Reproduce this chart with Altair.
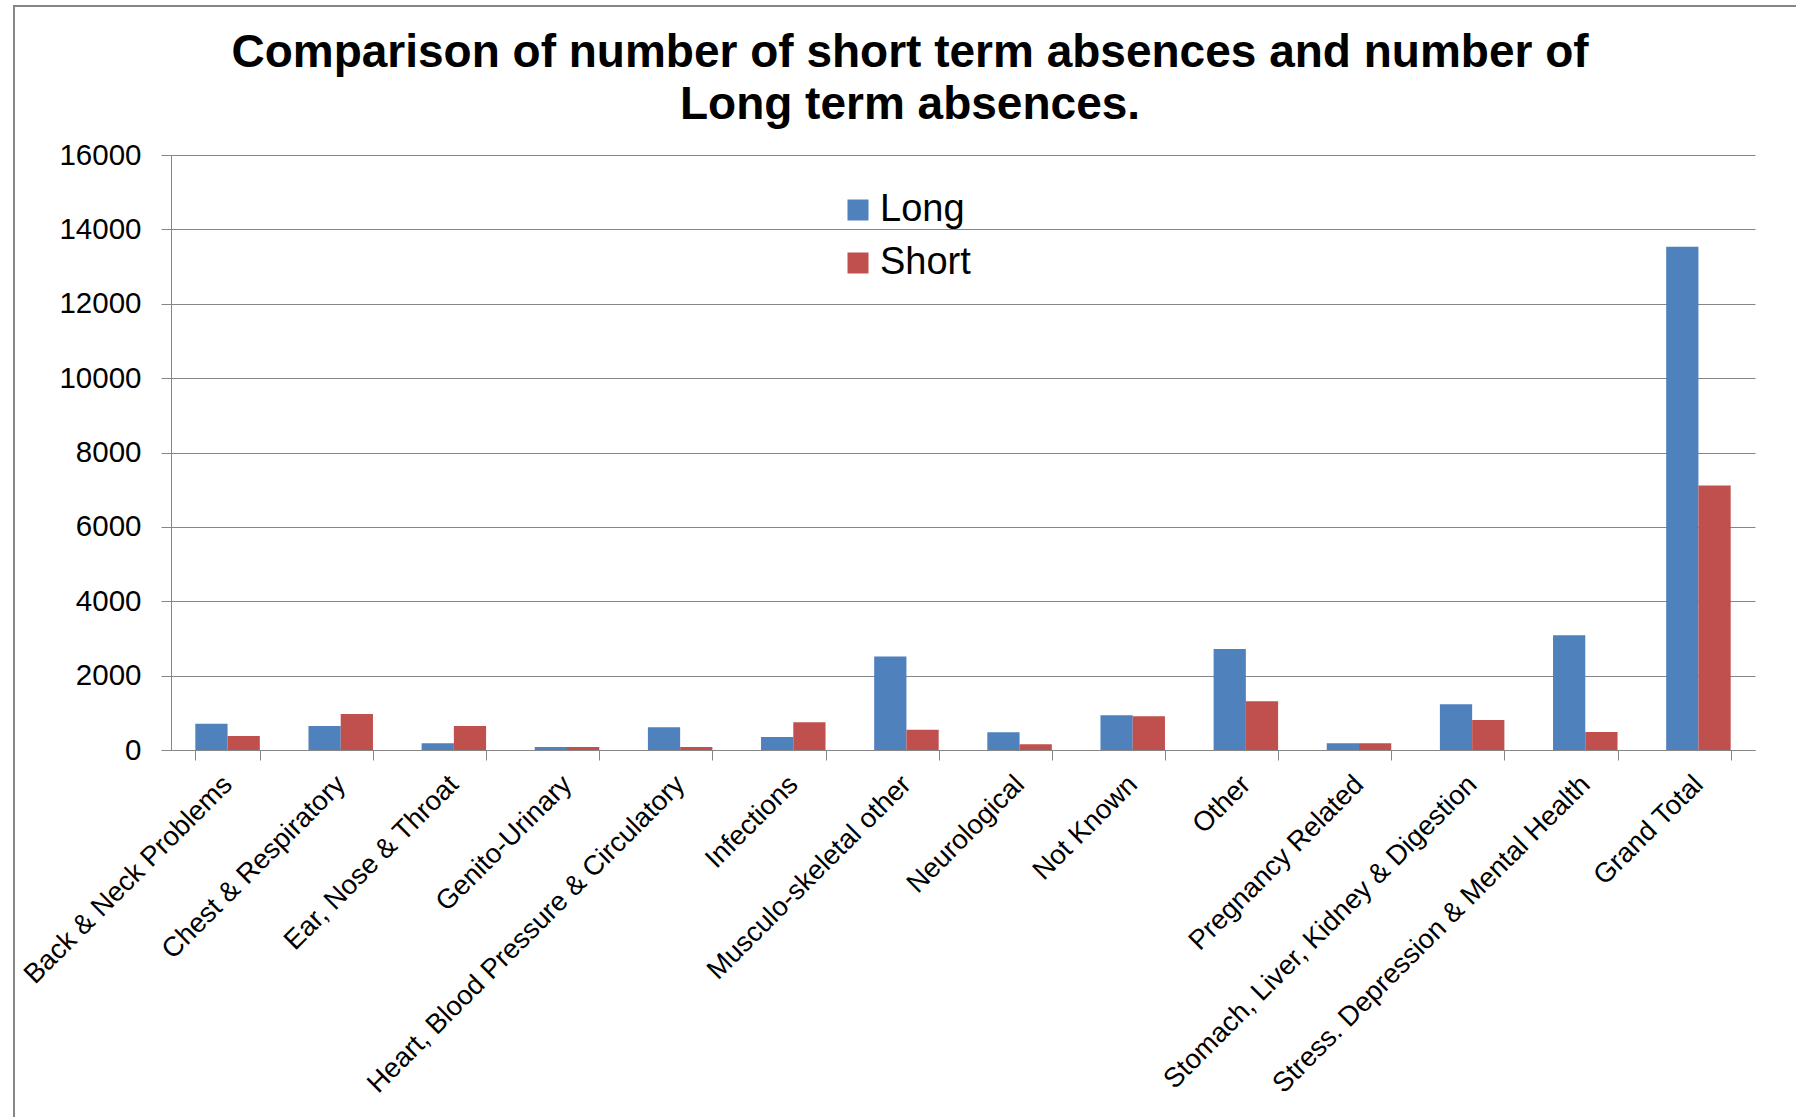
import altair as alt
import pandas as pd

title_lines = [
    "Comparison of number of short term absences and number of",
    "Long term absences.",
]
categories = [
    "Back & Neck Problems",
    "Chest & Respiratory",
    "Ear, Nose & Throat",
    "Genito-Urinary",
    "Heart, Blood Pressure & Circulatory",
    "Infections",
    "Musculo-skeletal other",
    "Neurological",
    "Not Known",
    "Other",
    "Pregnancy Related",
    "Stomach, Liver, Kidney & Digestion",
    "Stress. Depression & Mental Health",
    "Grand Total",
]
long_values = [708, 646, 180, 81, 611, 350, 2512, 476, 934, 2719, 180, 1230, 3087, 13532]
short_values = [377, 969, 646, 81, 81, 745, 547, 153, 906, 1310, 180, 808, 485, 7115]
series = ["Long", "Short"]
colors = ["#4F81BD", "#C0504D"]
y_ticks = [0, 2000, 4000, 6000, 8000, 10000, 12000, 14000, 16000]

rows = []
for c, lv, sv in zip(categories, long_values, short_values):
    rows.append({"Category": c, "Series": "Long", "Value": lv})
    rows.append({"Category": c, "Series": "Short", "Value": sv})
df = pd.DataFrame(rows)
one = pd.DataFrame({"k": [0]})

FONT = "Liberation Sans"
GRAY = "#868686"

bars = alt.Chart(df).mark_bar().encode(
    x=alt.X(
        "Category:N",
        sort=categories,
        title=None,
        scale=alt.Scale(paddingInner=0.43, paddingOuter=0.215),
        axis=alt.Axis(
            labelAngle=-45,
            labelFontSize=27.5,
            labelFont=FONT,
            labelColor="#000000",
            labelAlign="right",
            labelBaseline="middle",
            labelPadding=20,
            labelLimit=1000,
            tickBand="extent",
            tickSize=10,
            tickColor=GRAY,
            domainColor=GRAY,
            grid=False,
        ),
    ),
    xOffset=alt.XOffset("Series:N", sort=series, scale=alt.Scale(paddingInner=0, paddingOuter=0)),
    y=alt.Y(
        "Value:Q",
        title=None,
        scale=alt.Scale(domain=[0, 16000], nice=False),
        axis=alt.Axis(
            values=y_ticks,
            labelFontSize=29.5,
            labelFont=FONT,
            labelColor="#000000",
            labelPadding=20,
            tickSize=10,
            tickColor=GRAY,
            domainColor=GRAY,
            gridColor=GRAY,
            gridWidth=1,
            format="d",
        ),
    ),
    color=alt.Color(
        "Series:N",
        sort=series,
        scale=alt.Scale(domain=series, range=colors),
        legend=alt.Legend(
            title=None,
            orient="none",
            legendX=668,
            legendY=36,
            symbolType="square",
            symbolSize=441,
            symbolStrokeWidth=0,
            labelFontSize=38,
            labelFont=FONT,
            labelColor="#000000",
            labelOffset=3,
            rowPadding=15,
            padding=0,
        ),
    ),
)

frame_left = alt.Chart(one).mark_rule(color=GRAY, strokeWidth=2).encode(
    x=alt.value(-157), y=alt.value(-149), y2=alt.value(962)
)
frame_top = alt.Chart(one).mark_rule(color=GRAY, strokeWidth=2).encode(
    x=alt.value(-158), x2=alt.value(1625), y=alt.value(-149)
)

title1 = alt.Chart(one).mark_text(
    font=FONT, fontSize=46, fontWeight="bold", color="#000000",
    align="center", baseline="alphabetic",
).encode(x=alt.value(739), y=alt.value(-88), text=alt.value(title_lines[0]))
title2 = alt.Chart(one).mark_text(
    font=FONT, fontSize=46, fontWeight="bold", color="#000000",
    align="center", baseline="alphabetic",
).encode(x=alt.value(739), y=alt.value(-36), text=alt.value(title_lines[1]))

chart = (
    alt.layer(frame_left, frame_top, title1, title2, bars)
    .properties(
        width=1584,
        height=595,
        autosize=alt.AutoSizeParams(type="none"),
        padding={"left": 171, "top": 155, "right": 41, "bottom": 367},
        background="#ffffff",
    )
    .configure_view(stroke=None)
)

chart.save("out.html", embed_options={"renderer": "svg", "actions": False})
